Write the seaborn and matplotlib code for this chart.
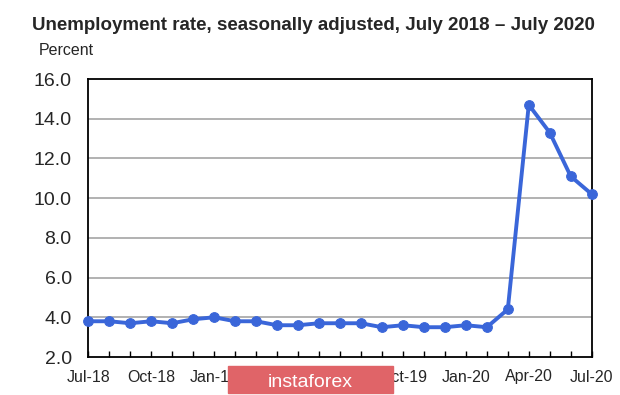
import matplotlib
matplotlib.use("Agg")
import matplotlib.pyplot as plt
from matplotlib.patches import Rectangle
import seaborn as sns
import pandas as pd

# Monthly unemployment rate, Jul-2018 .. Jul-2020
months = ["Jul-18", "Aug-18", "Sep-18", "Oct-18", "Nov-18", "Dec-18",
          "Jan-19", "Feb-19", "Mar-19", "Apr-19", "May-19", "Jun-19",
          "Jul-19", "Aug-19", "Sep-19", "Oct-19", "Nov-19", "Dec-19",
          "Jan-20", "Feb-20", "Mar-20", "Apr-20", "May-20", "Jun-20", "Jul-20"]
rate = [3.8, 3.8, 3.7, 3.8, 3.7, 3.9,
        4.0, 3.8, 3.8, 3.6, 3.6, 3.7,
        3.7, 3.7, 3.5, 3.6, 3.5, 3.5,
        3.6, 3.5, 4.4, 14.7, 13.3, 11.1, 10.2]
y_ticks = [2, 4, 6, 8, 10, 12, 14, 16]

df = pd.DataFrame({"idx": range(len(months)), "month": months, "rate": rate})

sns.set_style("white")
plt.rcParams["font.family"] = ["Liberation Sans", "DejaVu Sans"]

fig = plt.figure(figsize=(6.2, 3.95), dpi=100)
ax = fig.add_axes([88.3 / 620, 38 / 395, 503.4 / 620, 278 / 395])

blue = "#3A66D9"
sns.lineplot(data=df, x="idx", y="rate", ax=ax, color=blue, linewidth=2.8,
             marker="o", markersize=7, markeredgecolor=blue, zorder=3,
             clip_on=False)

ax.set_xlim(0, len(months) - 1)
ax.set_ylim(2, 16)
ax.set_yticks(y_ticks)
ax.set_yticklabels([f"{v:.1f}" for v in y_ticks], fontsize=14)
for v in y_ticks[1:-1]:
    ax.axhline(v, color="#ABABAB", linewidth=1.3, zorder=1)

ax.set_xticks(range(0, len(months), 3))
ax.set_xticklabels(months[::3], fontsize=11.5)
ax.set_xticks(range(len(months)), minor=True)
ax.tick_params(axis="x", which="both", direction="in", length=4, width=1,
               color="black", pad=9, bottom=True)
ax.tick_params(axis="y", length=0, pad=12)
ax.set_xlabel("")
ax.set_ylabel("")

for s in ax.spines.values():
    s.set_color("black")
    s.set_linewidth(1.3)
    s.set_visible(True)

fig.text(32 / 620, 1 - 30 / 395,
         "Unemployment rate, seasonally adjusted, July 2018 \u2013 July 2020",
         fontsize=13.5, fontweight="bold", ha="left", va="baseline")
fig.text(39 / 620, 1 - 55 / 395, "Percent", fontsize=11.5, ha="left", va="baseline")

# watermark
fig.patches.append(Rectangle((228 / 620, 2 / 395), 165 / 620, 27 / 395,
                             transform=fig.transFigure, color="#E06468", zorder=5))
fig.text(310 / 620, 1 - 387 / 395, "instaforex", color="white", fontsize=14,
         ha="center", va="baseline", zorder=6)

fig.savefig("out.png", dpi=100)
